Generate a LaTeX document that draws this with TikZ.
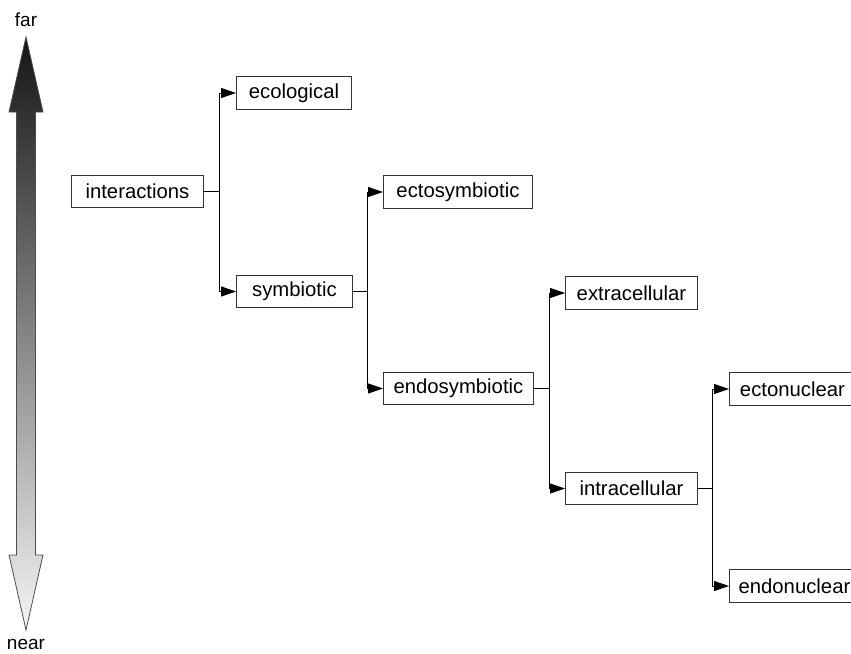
\documentclass[tikz,border=0pt]{standalone}
\usepackage{fontspec}
\setmainfont{Liberation Sans}
\usetikzlibrary{arrows.meta}
\begin{document}
\begin{tikzpicture}[x=1pt,y=-1pt,
  box/.style={draw=black!80, line width=0.9pt, minimum height=32.5pt, inner xsep=2pt, inner ysep=0pt,
    font=\fontsize{20.3}{22}\selectfont, anchor=west},
  link/.style={line width=0.9pt},
  feed/.style={link, -{Triangle[length=15pt,width=10pt]}},
  scalelabel/.style={font=\fontsize{19}{20}\selectfont, anchor=base}]
\useasboundingbox (0,0) rectangle (851,653);

% distance scale: double-headed shaded arrow
\path[draw=black!70, line width=0.8pt, top color=black!92, middle color=black!62, bottom color=black!4]
  (26,37) -- (43,112) -- (35.5,112) -- (35.5,555) -- (43,555) -- (26,630)
  -- (9,555) -- (16.5,555) -- (16.5,112) -- (9,112) -- cycle;
\node[scalelabel] (far) at (26,27) {far};
\node[scalelabel] (near) at (26,649) {near};

% classification boxes
\node[box, minimum width=132pt] (interactions)  at (71,191.5)  {interactions};
\node[box, minimum width=115pt] (ecological)    at (236,93)    {ecological};
\node[box, minimum width=116pt] (symbiotic)     at (236,291.5) {symbiotic};
\node[box, minimum width=149pt] (ectosymbiotic) at (383,192)   {ectosymbiotic};
\node[box, minimum width=150pt] (endosymbiotic) at (383,388.5) {endosymbiotic};
\node[box, minimum width=132pt] (extracellular) at (565,293)   {extracellular};
\node[box, minimum width=132pt] (intracellular) at (565,488.5) {intracellular};
\node[box, minimum width=126pt] (ectonuclear)   at (729,389)   {ectonuclear};
\node[box, minimum width=130pt] (endonuclear)   at (729,586)   {endonuclear};

% branch columns
\coordinate (j1) at (219,0);
\coordinate (j2) at (367,0);
\coordinate (j3) at (549,0);
\coordinate (j4) at (712,0);

\draw[link] (interactions.east) -- (interactions.east -| j1);
\draw[feed] (interactions.east -| j1) |- (ecological.west);
\draw[feed] (interactions.east -| j1) |- (symbiotic.west);

\draw[link] (symbiotic.east) -- (symbiotic.east -| j2);
\draw[feed] (symbiotic.east -| j2) |- (ectosymbiotic.west);
\draw[feed] (symbiotic.east -| j2) |- (endosymbiotic.west);

\draw[link] (endosymbiotic.east) -- (endosymbiotic.east -| j3);
\draw[feed] (endosymbiotic.east -| j3) |- (extracellular.west);
\draw[feed] (endosymbiotic.east -| j3) |- (intracellular.west);

\draw[link] (intracellular.east) -- (intracellular.east -| j4);
\draw[feed] (intracellular.east -| j4) |- (ectonuclear.west);
\draw[feed] (intracellular.east -| j4) |- (endonuclear.west);
\end{tikzpicture}
\end{document}
